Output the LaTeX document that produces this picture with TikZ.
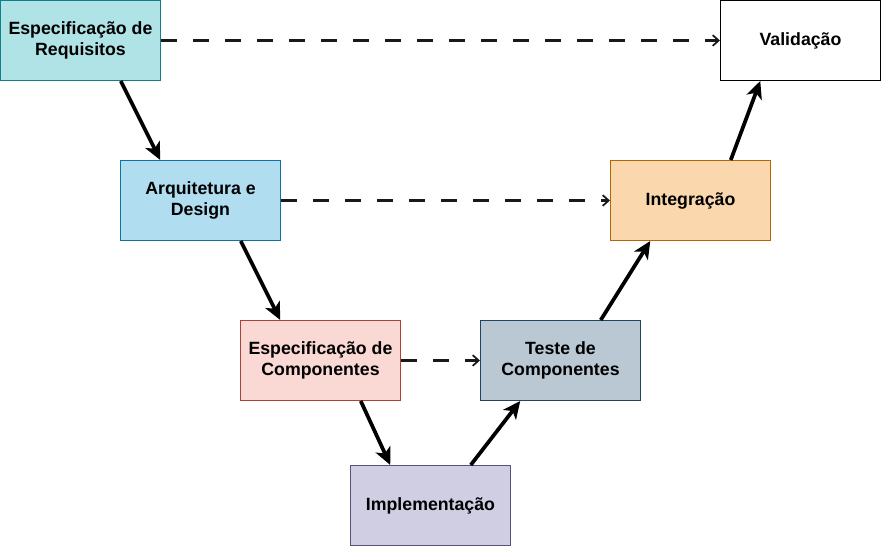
\documentclass[tikz,border=0pt]{standalone}
\usepackage{fontspec}
\setmainfont{Liberation Sans}
\usetikzlibrary{arrows.meta,calc}
\definecolor{f1}{HTML}{B0E3E6}\definecolor{s1}{HTML}{0E8088}
\definecolor{f2}{HTML}{B1DDF0}\definecolor{s2}{HTML}{10739E}
\definecolor{f3}{HTML}{FAD9D5}\definecolor{s3}{HTML}{AE4132}
\definecolor{f4}{HTML}{D0CEE2}\definecolor{s4}{HTML}{56517E}
\definecolor{f5}{HTML}{BAC8D3}\definecolor{s5}{HTML}{23445D}
\definecolor{f6}{HTML}{FAD7AC}\definecolor{s6}{HTML}{B46504}
\tikzset{
  phase/.style={draw, line width=0.75pt, minimum width=120pt, minimum height=60pt,
    inner sep=0pt, align=center, font=\fontsize{13.3}{16.2}\selectfont\bfseries},
  flow/.style={line width=2.8pt, -{Stealth[length=13pt,width=12pt,inset=3.5pt]}},
  trace/.style={line width=1.55pt, draw=black!90, dash pattern=on 12pt off 12pt,
    -{Straight Barb[length=4.5pt,width=8pt,line width=1.3pt]}}
}
\begin{document}
\begin{tikzpicture}[x=0.75pt,y=-0.75pt]
\useasboundingbox (0,0) rectangle (881,546);
\node[phase, fill=f1, draw=s1] (req) at (80.5,40.5) {Especificação de\\Requisitos};
\node[phase, fill=f2, draw=s2] (arq) at (200.5,200.5) {Arquitetura e\\Design};
\node[phase, fill=f3, draw=s3] (comp) at (320.5,360.5) {Especificação de\\Componentes};
\node[phase, fill=f4, draw=s4] (impl) at (430.5,505.5) {Implementação};
\node[phase, fill=f5, draw=s5] (teste) at (560.5,360.5) {Teste de\\Componentes};
\node[phase, fill=f6, draw=s6] (integ) at (690.5,200.5) {Integração};
\node[phase, fill=white, draw=black] (valid) at (800.5,40.5) {Validação};

\draw[flow] ($(req.south west)!0.75!(req.south east)$) -- ($(arq.north west)!0.25!(arq.north east)$);
\draw[flow] ($(arq.south west)!0.75!(arq.south east)$) -- ($(comp.north west)!0.25!(comp.north east)$);
\draw[flow] ($(comp.south west)!0.75!(comp.south east)$) -- ($(impl.north west)!0.25!(impl.north east)$);
\draw[flow] ($(impl.north west)!0.75!(impl.north east)$) -- ($(teste.south west)!0.25!(teste.south east)$);
\draw[flow] ($(teste.north west)!0.75!(teste.north east)$) -- ($(integ.south west)!0.25!(integ.south east)$);
\draw[flow] ($(integ.north west)!0.75!(integ.north east)$) -- ($(valid.south west)!0.25!(valid.south east)$);

\draw[trace] (req.east) -- (valid.west);
\draw[trace] (arq.east) -- (integ.west);
\draw[trace] (comp.east) -- (teste.west);
\end{tikzpicture}
\end{document}
